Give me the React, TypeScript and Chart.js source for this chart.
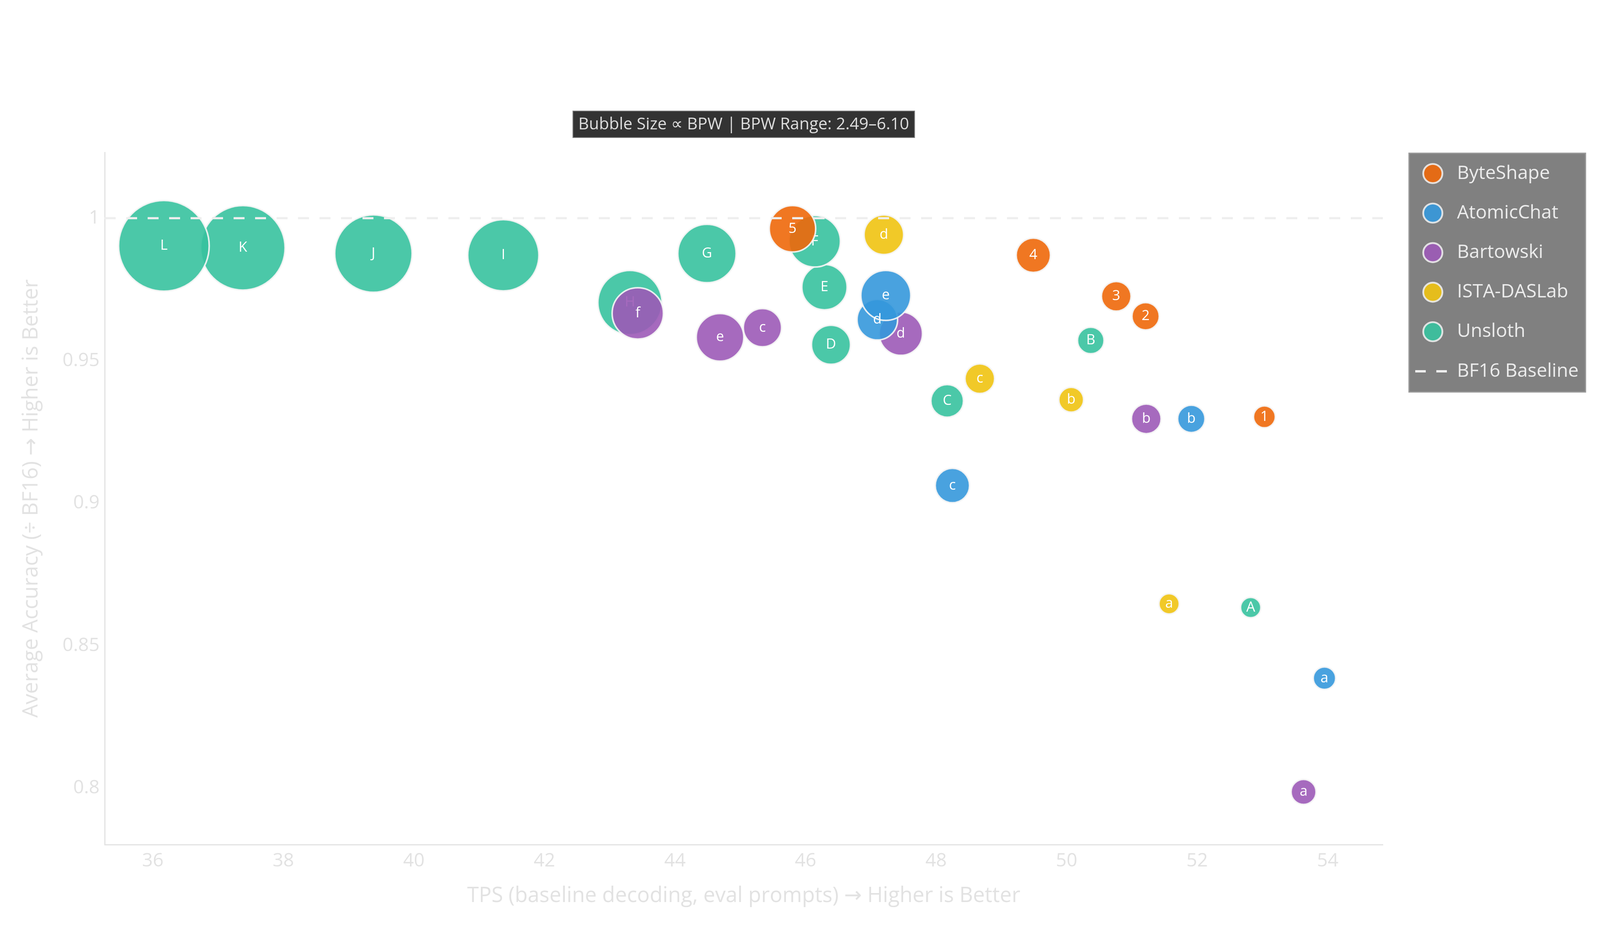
import { Chart, registerables } from 'chart.js';
import { useEffect, useRef } from 'react';

Chart.register(...registerables);

// series, in legend order (first one is drawn on top)
const seriesNames = ['ByteShape', 'AtomicChat', 'Bartowski', 'ISTA-DASLab', 'Unsloth'];
const seriesColors = [
  'rgba(238,104,10,0.9)',
  'rgba(53,152,220,0.9)',
  'rgba(156,90,183,0.9)',
  'rgba(239,195,17,0.9)',
  'rgba(55,194,158,0.9)',
];

const byteShapeLabels = ['1', '2', '3', '4', '5'];
const byteShapeTps = [53.03, 51.21, 50.76, 49.49, 45.8];
const byteShapeAcc = [0.9303, 0.9656, 0.9726, 0.987, 0.9963];
const byteShapeBpw = [2.57, 2.85, 2.97, 3.21, 3.83];

const atomicLabels = ['a', 'b', 'c', 'd', 'e'];
const atomicTps = [53.95, 51.91, 48.25, 47.1, 47.23];
const atomicAcc = [0.8386, 0.9296, 0.9062, 0.9644, 0.9729];
const atomicBpw = [2.6, 2.85, 3.21, 3.53, 4.01];

const bartowskiLabels = ['a', 'b', 'c', 'd', 'e', 'f'];
const bartowskiTps = [53.63, 51.22, 45.34, 47.46, 44.69, 43.43];
const bartowskiAcc = [0.7987, 0.9296, 0.9616, 0.9595, 0.9582, 0.9666];
const bartowskiBpw = [2.73, 2.97, 3.41, 3.67, 3.89, 4.08];

const istaLabels = ['a', 'b', 'c', 'd'];
const istaTps = [51.57, 50.07, 48.67, 47.2];
const istaAcc = [0.8647, 0.9363, 0.9437, 0.9942];
const istaBpw = [2.49, 2.72, 2.97, 3.48];

const unslothLabels = ['A', 'B', 'C', 'D', 'E', 'F', 'G', 'H', 'I', 'J', 'K', 'L'];
const unslothTps = [52.82, 50.37, 48.17, 46.39, 46.29, 46.14, 44.49, 43.31, 41.37, 39.38, 37.38, 36.17];
const unslothAcc = [0.8634, 0.9571, 0.9359, 0.9556, 0.9758, 0.9919, 0.9876, 0.9704, 0.987, 0.9876, 0.9896, 0.9903];
const unslothBpw = [2.49, 2.81, 3.12, 3.45, 3.77, 4.09, 4.44, 4.74, 5.1, 5.42, 5.78, 6.1];

const seriesLabels = [byteShapeLabels, atomicLabels, bartowskiLabels, istaLabels, unslothLabels];
const seriesTps = [byteShapeTps, atomicTps, bartowskiTps, istaTps, unslothTps];
const seriesAcc = [byteShapeAcc, atomicAcc, bartowskiAcc, istaAcc, unslothAcc];
const seriesBpw = [byteShapeBpw, atomicBpw, bartowskiBpw, istaBpw, unslothBpw];

const xTicks = [36, 38, 40, 42, 44, 46, 48, 50, 52, 54];
const yTicks = [0.8, 0.85, 0.9, 0.95, 1];
const baselineValue = 1;
const baselineName = 'BF16 Baseline';

const titleText = 'Bubble Size \u221d BPW | BPW Range: 2.49\u20136.10';
const xTitle = 'TPS (baseline decoding, eval prompts) \u2192 Higher is Better';
const yTitle = 'Average Accuracy (\u00f7 BF16) \u2192 Higher is Better';

const FONT = '"Open Sans", "DejaVu Sans", sans-serif';
const BPW_MIN = 2.49;
const BPW_MAX = 6.1;
const R_MIN = 26;
const R_MAX = 116;

const bubbleRadius = (bpw: number) =>
  R_MIN + ((bpw - BPW_MIN) / (BPW_MAX - BPW_MIN)) * (R_MAX - R_MIN);

const overlayPlugin = {
  id: 'overlay',
  afterDatasetDraw(chart: any, args: any) {
    const { ctx } = chart;
    const labels = seriesLabels[args.index];
    ctx.save();
    ctx.font = `36px ${FONT}`;
    ctx.fillStyle = '#ffffff';
    ctx.textAlign = 'center';
    ctx.textBaseline = 'middle';
    args.meta.data.forEach((el: any, i: number) => {
      ctx.fillText(labels[i], el.x, el.y);
    });
    ctx.restore();
  },
  afterDatasetsDraw(chart: any) {
    const { ctx, chartArea } = chart;
    const y = chart.scales.y.getPixelForValue(baselineValue);
    ctx.save();
    ctx.strokeStyle = '#eeeeee';
    ctx.lineWidth = 5.5;
    ctx.setLineDash([28, 27]);
    ctx.beginPath();
    ctx.moveTo(chartArea.left, y);
    ctx.lineTo(chartArea.right, y);
    ctx.stroke();
    ctx.restore();
  },
  afterDraw(chart: any) {
    const { ctx, chartArea } = chart;
    ctx.save();

    // title box
    ctx.font = `42px ${FONT}`;
    const tw = ctx.measureText(titleText).width;
    const cx = (chartArea.left + chartArea.right) / 2;
    const bx = cx - tw / 2 - 14;
    ctx.fillStyle = '#333333';
    ctx.fillRect(bx, 284, tw + 28, 68);
    ctx.strokeStyle = '#808080';
    ctx.lineWidth = 2;
    ctx.strokeRect(bx, 284, tw + 28, 68);
    ctx.fillStyle = '#dddddd';
    ctx.textAlign = 'center';
    ctx.textBaseline = 'middle';
    ctx.fillText(titleText, cx, 319);

    // legend
    const lx = 3607;
    const ly = 392;
    ctx.fillStyle = '#808080';
    ctx.fillRect(lx, ly, 452, 611);
    ctx.strokeStyle = '#999999';
    ctx.lineWidth = 3;
    ctx.strokeRect(lx, ly, 452, 611);
    ctx.font = `48px ${FONT}`;
    ctx.textAlign = 'left';
    ctx.textBaseline = 'middle';
    const names = [...seriesNames, baselineName];
    names.forEach((name, i) => {
      const iy = 444 + i * 101.2;
      if (i < seriesNames.length) {
        ctx.beginPath();
        ctx.arc(3668, iy, 24.5, 0, Math.PI * 2);
        ctx.fillStyle = seriesColors[i];
        ctx.fill();
        ctx.strokeStyle = 'rgba(235,235,235,0.9)';
        ctx.lineWidth = 4.6;
        ctx.stroke();
      } else {
        ctx.strokeStyle = '#eeeeee';
        ctx.lineWidth = 6;
        ctx.beginPath();
        ctx.moveTo(3623, iy);
        ctx.lineTo(3650, iy);
        ctx.moveTo(3677, iy);
        ctx.lineTo(3704, iy);
        ctx.stroke();
      }
      ctx.fillStyle = '#ececec';
      ctx.fillText(name, 3730, iy);
    });
    ctx.restore();
  },
};

export default function App() {
  const chartRef = useRef<HTMLCanvasElement>(null);

  useEffect(() => {
    const context = chartRef.current?.getContext('2d');
    if (!context) return undefined;

    const chartInstance = new Chart(context, {
      type: 'bubble',
      data: {
        datasets: seriesNames.map((name, s) => ({
          label: name,
          data: seriesTps[s].map((x, i) => ({
            x,
            y: seriesAcc[s][i],
            r: bubbleRadius(seriesBpw[s][i]),
          })),
          backgroundColor: seriesColors[s],
          borderColor: 'rgba(246,246,246,0.9)',
          borderWidth: 4,
          clip: false,
        })),
      },
      options: {
        animation: false,
        responsive: false,
        maintainAspectRatio: false,
        devicePixelRatio: 1,
        layout: { padding: { left: 0, top: 390, right: 660, bottom: 0 } },
        plugins: {
          legend: { display: false },
          title: { display: false },
          tooltip: { enabled: false },
        },
        scales: {
          x: {
            type: 'linear',
            min: 35.263,
            max: 54.844,
            grid: { display: false, drawTicks: false },
            border: { display: true, color: '#e3e3e3', width: 3 },
            afterBuildTicks: (scale: any) => {
              scale.ticks = xTicks.map((v) => ({ value: v }));
            },
            afterFit: (scale: any) => {
              scale.height = 239;
            },
            ticks: {
              autoSkip: false,
              maxRotation: 0,
              padding: 14,
              color: '#e2e2e2',
              font: { family: FONT, size: 48 },
              callback: (v: any) => String(v),
            },
            title: {
              display: true,
              text: xTitle,
              color: '#e2e2e2',
              font: { family: FONT, size: 54 },
              padding: { top: 0, bottom: 75 },
            },
          },
          y: {
            type: 'linear',
            min: 0.78022,
            max: 1.02308,
            grid: { display: false, drawTicks: false },
            border: { display: true, color: '#e3e3e3', width: 3 },
            afterBuildTicks: (scale: any) => {
              scale.ticks = yTicks.map((v) => ({ value: v }));
            },
            afterFit: (scale: any) => {
              scale.width = 268;
            },
            ticks: {
              autoSkip: false,
              padding: 13,
              color: '#e2e2e2',
              font: { family: FONT, size: 48 },
              callback: (v: any) => String(v),
            },
            title: {
              display: true,
              text: yTitle,
              color: '#e2e2e2',
              font: { family: FONT, size: 54 },
              padding: { top: 48, bottom: 0 },
            },
          },
        },
      },
      plugins: [overlayPlugin],
    });

    return () => {
      chartInstance.destroy();
    };
  }, []);

  return (
    <div style={{ position: 'absolute', left: 0, top: 0, width: 4200, height: 2400, background: '#ffffff' }}>
      <canvas ref={chartRef} width={4200} height={2400} style={{ display: 'block', width: 4200, height: 2400 }} />
    </div>
  );
}
